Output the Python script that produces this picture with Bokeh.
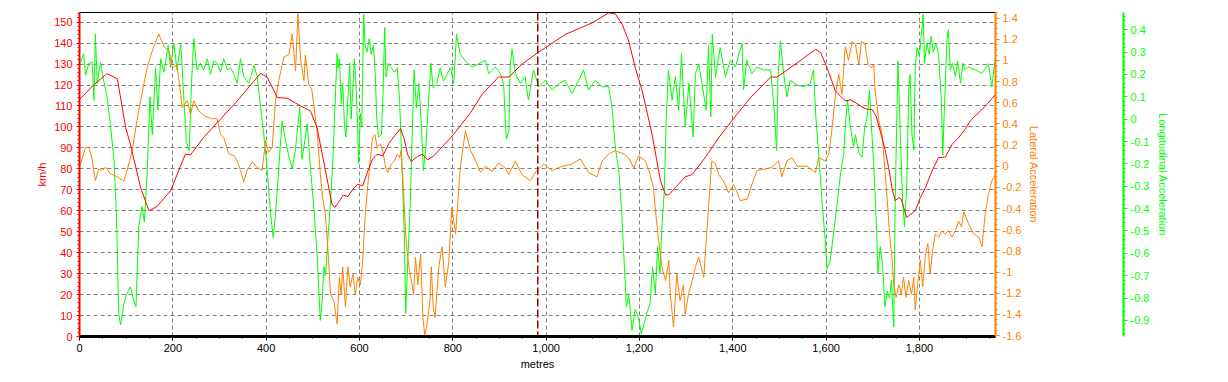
from bokeh.plotting import figure
from bokeh.models import (Range1d, LinearAxis, SingleIntervalTicker, NumeralTickFormatter,
                          CustomJSTickFormatter, Span)
from bokeh.layouts import row
from bokeh.embed import file_html
from bokeh.resources import INLINE

# ---------------- data: (metres, value) ----------------
speed_pts = [(0, 113), (2, 113.5), (30, 120), (59, 125.4), (81, 123), (99, 99.7), (109, 91.7),
             (131, 71), (149, 60), (166, 62), (195, 69.5), (227, 87), (238, 86.7), (266, 95),
             (338, 112.4), (388, 125.6), (402, 123.8), (424, 114), (445, 113.7), (474, 110),
             (495, 107.6), (509, 99.7), (529, 77), (541, 63.2), (547, 61.5), (555, 64),
             (565, 67.4), (575, 66.8), (586, 70.3), (596, 72.7), (607, 71.9), (618, 79.1),
             (628, 84.6), (638, 87), (650, 86.2), (664, 92.5), (678, 96.5), (688, 99.2),
             (696, 94.2), (703, 87), (711, 83.4), (724, 85.9), (735, 87), (746, 84.3), (758, 85.9),
             (802, 96.5), (838, 106.8), (863, 115.6), (898, 123.8), (920, 123.8), (948, 129.9),
             (982, 135.4), (1041, 144.1), (1099, 149.7), (1134, 154.4), (1148, 154), (1163, 148.9),
             (1177, 141), (1191, 128.2), (1206, 117.1), (1227, 96.5), (1245, 74.3), (1256, 67.6),
             (1263, 67.6), (1277, 71.1), (1298, 76.2), (1313, 77.3), (1341, 85.4), (1370, 94.9),
             (1406, 105.2), (1438, 114), (1481, 123.8), (1495, 123.8), (1538, 130.6), (1577, 137),
             (1588, 135.6), (1602, 128.2), (1620, 117.1), (1641, 112.4), (1652, 112.9),
             (1663, 111.6), (1677, 109.5), (1688, 108.4), (1698, 108.4), (1707, 105.2), (1716, 98),
             (1727, 88.6), (1734, 80.6), (1741, 71.1), (1748, 64.8), (1756, 66.3), (1761, 65.6),
             (1766, 61.6), (1773, 56.8), (1780, 58.1), (1791, 60), (1802, 66.3), (1813, 71.1),
             (1827, 79), (1841, 85.4), (1850, 85.4), (1856, 85.7), (1870, 91.7), (1884, 94.9),
             (1898, 98.9), (1909, 102.9), (1945, 110.8), (1963, 115.6)]

lat_pts = [(0, 0.02), (2, 0.02), (13, 0.178), (20, 0.18), (27, 0.07), (34, -0.136), (41, -0.026),
           (48, -0.04), (56, -0.01), (66, -0.07), (81, -0.1), (95, -0.14), (102, -0.04),
           (113, 0.147), (123, 0.43), (131, 0.62), (145, 0.934), (156, 1.09), (170, 1.25),
           (181, 1.13), (192, 1.09), (199, 0.93), (209, 0.96), (217, 0.68), (220, 0.556),
           (231, 0.62), (238, 0.49), (245, 0.62), (256, 0.52), (266, 0.48), (281, 0.45),
           (295, 0.45), (302, 0.305), (309, 0.27), (320, 0.116), (331, 0.1), (338, 0.05),
           (345, -0.04), (352, -0.15), (359, -0.04), (370, 0.04), (381, -0.01), (391, -0.04),
           (399, 0.24), (405, 0.13), (413, 0.18), (420, 0.62), (427, 0.81), (438, 1.03),
           (449, 1.06), (456, 1.25), (463, 0.9), (468, 1.44), (474, 1.0), (481, 0.81), (484, 1.05),
           (491, 0.78), (498, 0.72), (509, 0.335), (516, -0.07), (521, -0.3), (527, -0.45),
           (533, -0.83), (538, -1.21), (545, -1.27), (552, -1.49), (557, -1.05), (561, -1.21),
           (564, -0.95), (570, -1.33), (575, -0.95), (580, -1.14), (586, -1.02), (591, -1.21),
           (596, -1.05), (602, -1.12), (607, -0.89), (612, -0.48), (618, -0.17), (623, 0.05),
           (628, 0.27), (633, 0.3), (638, 0.18), (645, 0.21), (651, 0.12), (656, -0.01),
           (661, -0.06), (668, 0.02), (675, 0.05), (681, 0.116), (686, 0.08), (689, 0.147),
           (694, -0.2), (699, -0.64), (704, -0.89), (710, -1.05), (716, -1.21), (720, -0.86),
           (725, -1.12), (731, -0.83), (736, -1.43), (740, -1.6), (745, -1.49), (751, -1.27),
           (754, -0.95), (758, -1.33), (762, -1.43), (770, -0.95), (777, -0.76), (784, -1.14),
           (791, -0.92), (798, -0.39), (806, -0.64), (816, -0.01), (827, 0.336), (838, 0.15),
           (849, 0.05), (859, -0.058), (870, 0.0), (884, -0.05), (898, 0.03), (913, -0.02),
           (920, -0.08), (934, 0.05), (948, -0.08), (966, -0.136), (980, -0.04), (995, 0.02),
           (1013, -0.04), (1034, 0.0), (1055, 0.02), (1073, 0.07), (1091, -0.06), (1109, -0.1),
           (1120, 0.05), (1134, 0.116), (1148, 0.147), (1166, 0.116), (1177, 0.08), (1188, -0.02),
           (1198, 0.1), (1213, 0.05), (1223, -0.08), (1230, -0.2), (1235, -0.45), (1241, -0.7),
           (1248, -0.95), (1256, -1.08), (1263, -0.89), (1266, -1.21), (1273, -1.52),
           (1280, -1.02), (1287, -1.27), (1294, -1.12), (1298, -1.4), (1305, -1.21), (1313, -1.08),
           (1320, -0.95), (1327, -0.86), (1338, -1.05), (1341, -0.83), (1348, -0.39), (1355, 0.05),
           (1363, 0.02), (1370, -0.08), (1380, -0.14), (1391, -0.25), (1402, -0.17),
           (1416, -0.325), (1431, -0.31), (1441, -0.17), (1452, -0.04), (1466, -0.03),
           (1484, -0.01), (1498, 0.05), (1505, -0.1), (1516, 0.05), (1527, 0.08), (1538, 0.0),
           (1559, 0.0), (1577, -0.06), (1584, 0.08), (1598, 0.05), (1606, 0.116), (1613, 0.367),
           (1620, 0.68), (1627, 0.87), (1634, 0.68), (1641, 1.13), (1648, 1.0), (1656, 1.18),
           (1663, 1.15), (1670, 0.96), (1676, 1.18), (1683, 1.16), (1690, 0.96), (1697, 0.93),
           (1702, 0.96), (1705, 0.72), (1713, 0.43), (1720, 0.3), (1726, -0.04), (1731, -0.32),
           (1736, -0.64), (1741, -0.86), (1745, -1.12), (1750, -1.24), (1756, -1.12),
           (1761, -1.21), (1766, -1.05), (1771, -1.24), (1777, -1.08), (1783, -1.21),
           (1788, -1.05), (1791, -1.36), (1796, -1.12), (1802, -0.89), (1807, -1.14),
           (1813, -0.83), (1818, -0.73), (1823, -1.02), (1828, -0.8), (1834, -0.64),
           (1841, -0.67), (1848, -0.61), (1855, -0.64), (1862, -0.61), (1870, -0.67),
           (1877, -0.61), (1884, -0.52), (1890, -0.57), (1895, -0.43), (1905, -0.54),
           (1916, -0.64), (1927, -0.67), (1934, -0.76), (1941, -0.45), (1948, -0.26),
           (1955, -0.14), (1963, -0.08)]

long_pts = [(0, 0.255), (2, 0.255), (9, 0.293), (13, 0.196), (20, 0.25), (27, 0.255), (31, 0.084),
            (34, 0.38), (38, 0.16), (45, 0.255), (52, 0.17), (59, 0.1), (66, -0.02), (74, -0.184),
            (79, -0.42), (81, -0.587), (84, -0.87), (88, -0.92), (95, -0.825), (102, -0.78),
            (109, -0.75), (116, -0.81), (121, -0.84), (127, -0.48), (134, -0.39), (139, -0.46),
            (145, -0.24), (151, 0.1), (156, -0.07), (163, 0.23), (168, 0.04), (174, 0.27),
            (181, 0.21), (190, 0.33), (195, 0.23), (202, 0.34), (209, 0.22), (217, 0.34),
            (224, 0.08), (229, -0.1), (235, -0.14), (240, 0.16), (245, 0.36), (252, 0.22),
            (259, 0.25), (266, 0.22), (274, 0.27), (281, 0.2), (288, 0.26), (295, 0.25),
            (302, 0.21), (309, 0.27), (317, 0.22), (324, 0.23), (331, 0.2), (338, 0.16),
            (345, 0.27), (352, 0.19), (363, 0.16), (374, 0.24), (381, 0.19), (388, 0.054),
            (395, -0.07), (402, -0.22), (409, -0.41), (415, -0.53), (420, -0.43), (427, -0.22),
            (434, -0.01), (442, -0.1), (449, -0.17), (456, -0.22), (463, -0.13), (472, 0.054),
            (477, -0.18), (488, -0.02), (495, -0.22), (502, -0.39), (509, -0.6), (516, -0.9),
            (520, -0.81), (524, -0.66), (527, -0.7), (533, -0.51), (538, -0.37), (543, -0.18),
            (552, 0.293), (554, 0.23), (557, 0.27), (561, 0.07), (564, 0.16), (568, -0.03),
            (571, -0.08), (575, 0.08), (579, 0.25), (582, 0.0), (586, 0.145), (589, 0.27),
            (593, 0.13), (596, -0.03), (598, -0.2), (602, 0.025), (605, -0.03), (609, 0.47),
            (612, 0.33), (616, 0.3), (621, 0.36), (625, 0.29), (630, 0.33), (634, 0.19),
            (637, 0.0), (641, -0.08), (647, -0.07), (650, 0.08), (654, 0.41), (657, 0.19),
            (662, 0.25), (668, 0.23), (675, 0.21), (681, 0.23), (686, 0.08), (691, -0.2),
            (696, -0.51), (699, -0.87), (703, -0.66), (709, -0.37), (713, -0.07), (717, 0.22),
            (722, 0.05), (727, 0.16), (732, 0.0), (737, -0.23), (742, -0.13), (748, 0.08),
            (753, 0.25), (758, 0.14), (766, 0.16), (773, 0.23), (780, 0.17), (795, 0.23),
            (802, 0.16), (808, 0.38), (816, 0.29), (827, 0.26), (841, 0.233), (856, 0.248),
            (870, 0.263), (877, 0.204), (891, 0.233), (902, 0.204), (909, 0.159), (913, -0.035),
            (915, -0.09), (920, -0.05), (923, 0.233), (927, 0.315), (934, 0.204), (945, 0.159),
            (955, 0.19), (962, 0.085), (973, 0.22), (984, 0.145), (998, 0.174), (1013, 0.13),
            (1027, 0.159), (1041, 0.174), (1055, 0.115), (1070, 0.174), (1080, 0.22), (1091, 0.13),
            (1105, 0.174), (1120, 0.145), (1134, 0.145), (1141, 0.055), (1148, -0.12),
            (1156, -0.24), (1162, -0.42), (1167, -0.63), (1172, -0.84), (1177, -0.78),
            (1181, -0.87), (1184, -0.945), (1191, -0.85), (1198, -0.89), (1204, -0.96),
            (1213, -0.89), (1223, -0.82), (1228, -0.66), (1234, -0.78), (1239, -0.57),
            (1244, -0.69), (1248, -0.48), (1253, -0.33), (1257, -0.02), (1262, 0.22),
            (1270, 0.085), (1277, 0.19), (1284, 0.04), (1290, 0.293), (1298, -0.035),
            (1306, 0.159), (1315, -0.08), (1320, 0.204), (1327, 0.248), (1334, 0.159),
            (1343, 0.04), (1348, 0.33), (1353, 0.01), (1356, 0.38), (1363, 0.19), (1373, 0.32),
            (1384, 0.19), (1395, 0.263), (1406, 0.233), (1413, 0.293), (1420, 0.337), (1423, 0.13),
            (1430, 0.263), (1441, 0.204), (1452, 0.233), (1466, 0.22), (1481, 0.22), (1487, 0.085),
            (1490, -0.005), (1494, -0.14), (1497, 0.19), (1502, 0.35), (1509, 0.204), (1516, 0.1),
            (1523, 0.174), (1538, 0.152), (1552, 0.145), (1566, 0.159), (1573, 0.22), (1578, 0.01),
            (1584, -0.155), (1591, -0.36), (1598, -0.54), (1602, -0.67), (1609, -0.63),
            (1616, -0.51), (1623, -0.39), (1631, -0.24), (1638, -0.155), (1641, -0.035),
            (1646, 0.085), (1652, -0.035), (1659, -0.125), (1663, -0.07), (1670, -0.15),
            (1677, -0.17), (1683, -0.03), (1688, 0.01), (1693, 0.13), (1697, -0.03), (1702, -0.2),
            (1707, -0.43), (1711, -0.69), (1716, -0.57), (1721, -0.65), (1726, -0.84),
            (1731, -0.77), (1736, -0.8), (1740, -0.72), (1745, -0.93), (1748, -0.37), (1754, 0.26),
            (1759, -0.07), (1764, -0.37), (1768, -0.48), (1773, -0.29), (1777, 0.13), (1780, 0.2),
            (1784, -0.07), (1788, -0.14), (1791, 0.23), (1795, 0.32), (1800, 0.28), (1804, 0.38),
            (1808, 0.47), (1811, 0.25), (1816, 0.34), (1821, 0.29), (1825, 0.37), (1830, 0.3),
            (1835, 0.34), (1841, 0.29), (1847, 0.08), (1850, -0.16), (1854, 0.08), (1859, 0.36),
            (1862, 0.4), (1866, 0.22), (1871, 0.25), (1877, 0.19), (1882, 0.26), (1888, 0.16),
            (1893, 0.25), (1898, 0.22), (1905, 0.233), (1920, 0.22), (1934, 0.204), (1948, 0.248),
            (1955, 0.145), (1963, 0.278)]

cursor_m = 982

speed_m = [a for a, _ in speed_pts]
speed_kmh = [b for _, b in speed_pts]
lat_m = [a for a, _ in lat_pts]
lat_g = [b for _, b in lat_pts]
long_m = [a for a, _ in long_pts]
long_g = [b for _, b in long_pts]

RED = "#FF0000"
ORANGE = "#FF8000"
GREEN = "#00FF00"
FONT = "Liberation Sans"

num_fmt = CustomJSTickFormatter(code="return String(Math.round(tick*100)/100);")


def style_axis(ax, color, label):
    ax.axis_label = label
    ax.axis_label_text_color = color
    ax.axis_label_text_font = FONT
    ax.axis_label_text_font_size = "11px"
    ax.axis_label_text_font_style = "normal"
    ax.axis_line_color = color
    ax.major_tick_line_color = color
    ax.minor_tick_line_color = color
    ax.major_label_text_color = color
    ax.major_label_text_font = FONT
    ax.major_label_text_font_size = "11px"
    ax.major_tick_in = 0
    ax.minor_tick_in = 0
    ax.major_tick_out = 4
    ax.minor_tick_out = 2


p = figure(frame_width=916, frame_height=324, min_border_left=79, min_border_top=12,
           min_border_right=50, min_border_bottom=42,
           x_range=Range1d(0, 1963), y_range=Range1d(0, 154.6),
           output_backend="svg", toolbar_location=None)
p.extra_y_ranges = {"lat": Range1d(-1.609, 1.453), "lon": Range1d(-0.972, 0.477)}
p.outline_line_color = "black"
p.outline_line_width = 1
p.background_fill_color = "white"
p.border_fill_color = "white"

xt = SingleIntervalTicker(interval=200, num_minor_ticks=4)
yt = SingleIntervalTicker(interval=10, num_minor_ticks=5)
p.xaxis.ticker = xt
p.xgrid.ticker = xt
p.yaxis.ticker = yt
p.ygrid.ticker = yt
p.xaxis.formatter = NumeralTickFormatter(format="0,0")

for g in (p.xgrid, p.ygrid):
    g.grid_line_color = "#808080"
    g.grid_line_dash = "4 3"
    g.grid_line_width = 1

xa = p.xaxis[0]
style_axis(xa, "black", "metres")
xa.axis_line_width = 3
xa.major_label_standoff = 3
xa.axis_label_standoff = 3

ya = p.yaxis[0]
style_axis(ya, RED, "km/h")
ya.axis_line_width = 2
ya.major_tick_out = 3
ya.major_label_standoff = 4
ya.axis_label_standoff = 3

lat_axis = LinearAxis(y_range_name="lat",
                      ticker=SingleIntervalTicker(interval=0.2, num_minor_ticks=4),
                      formatter=num_fmt)
style_axis(lat_axis, ORANGE, "Lateral Acceleration")
lat_axis.axis_line_width = 2
lat_axis.major_label_standoff = 3
lat_axis.axis_label_standoff = 4
p.add_layout(lat_axis, "right")

p.add_layout(Span(location=cursor_m, dimension="height", line_color="#990000",
                  line_dash="8 3", line_width=1.5))

p.line(long_m, long_g, y_range_name="lon", line_color=GREEN, line_width=1)
p.line(lat_m, lat_g, y_range_name="lat", line_color=ORANGE, line_width=1)
p.line(speed_m, speed_kmh, line_color=RED, line_width=1)

# second panel holding the longitudinal-acceleration axis
p2 = figure(frame_width=1, frame_height=324, min_border_left=77, min_border_top=12,
            min_border_right=60, min_border_bottom=42,
            x_range=Range1d(0, 1), y_range=Range1d(-0.972, 0.477),
            x_axis_location=None, y_axis_location=None,
            output_backend="svg", toolbar_location=None)
p2.outline_line_color = None
p2.grid.visible = False
p2.background_fill_color = "white"
p2.border_fill_color = "white"
lon_axis = LinearAxis(ticker=SingleIntervalTicker(interval=0.1, num_minor_ticks=5),
                      formatter=num_fmt)
style_axis(lon_axis, GREEN, "Longitudinal Acceleration")
lon_axis.axis_line_width = 2
lon_axis.major_label_standoff = 3
lon_axis.axis_label_standoff = 5
p2.add_layout(lon_axis, "right")

layout = row(p, p2)
open("out.html", "w").write(file_html(layout, INLINE))
